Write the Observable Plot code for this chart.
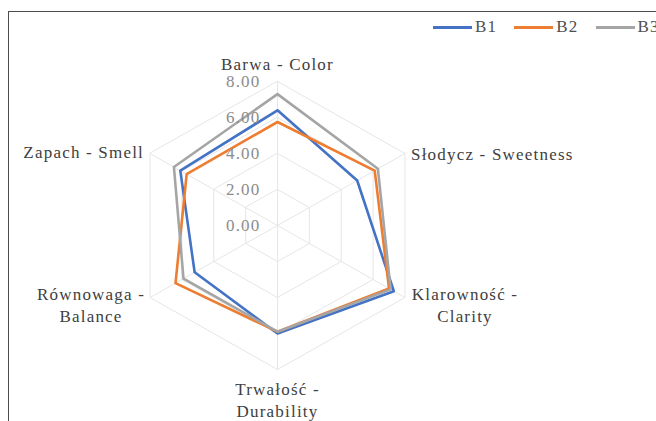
<!DOCTYPE html>
<html><head><meta charset="utf-8">
<script src="https://cdn.jsdelivr.net/npm/d3@7"></script>
<script src="https://cdn.jsdelivr.net/npm/@observablehq/plot@0.6"></script>
<style>
body{margin:0;background:#fff;overflow:hidden;}
#wrap{position:relative;width:656px;height:421px;overflow:hidden;background:#fff;}
#frame{position:absolute;left:8px;top:11px;width:700px;height:500px;border:1.5px solid #4d4d4d;box-sizing:border-box;pointer-events:none;}
#legend{position:absolute;top:17px;left:433px;display:flex;font-family:"Liberation Serif",serif;font-size:17px;letter-spacing:1.2px;color:#505050;white-space:nowrap;}
#legend .item{display:flex;align-items:center;margin-right:17px;}
#legend .sw{display:inline-block;width:39px;height:3px;margin-right:3px;}
svg text{letter-spacing:1.2px;}
</style></head>
<body><div id="wrap"><div id="chart"></div><div id="frame"></div><div id="legend"></div></div>
<script>
const categories = ["Barwa - Color","Słodycz - Sweetness","Klarowność -\nClarity","Trwałość -\nDurability","Równowaga -\nBalance","Zapach - Smell"];
const seriesNames = ["B1","B2","B3"];
const b1 = [6.4, 5.0, 7.3, 6.0, 5.2, 6.1];
const b2 = [5.75, 6.1, 7.0, 5.9, 6.4, 5.7];
const b3 = [7.3, 6.3, 7.1, 5.9, 5.9, 6.5];
const colors = ["#4472C4","#ED7D31","#A5A5A5"];
const ticks = [0, 2, 4, 6, 8];
const tickLabels = ["0.00","2.00","4.00","6.00","8.00"];
const maxValue = 8;

const W = 656, H = 421, cx = 277, cy = 225, ux = 18.4, uy = 18.0;
const n = categories.length;
const ang = i => i * 2 * Math.PI / n;
const px = (i, r) => r * Math.sin(ang(i));
const py = (i, r) => r * Math.cos(ang(i));

const seriesValues = [b1, b2, b3];
const pts = [];
seriesValues.forEach((vals, s) => vals.forEach((v, i) => pts.push({series: seriesNames[s], i, v, x: px(i, v), y: py(i, v)})));

const grid = [];
ticks.filter(t => t > 0).forEach(t => categories.forEach((c, i) => grid.push({t, x: px(i, t), y: py(i, t)})));
const spokes = categories.map((c, i) => ({x2: px(i, maxValue), y2: py(i, maxValue)}));
const tickData = ticks.map((t, k) => ({x: 0, y: t, label: tickLabels[k]}));

const labelStyle = [
  {textAnchor: "middle", dx: 0, dy: -19},
  {textAnchor: "start", dx: 6, dy: -1},
  {textAnchor: "middle", dx: 60, dy: 6},
  {textAnchor: "middle", dx: 0, dy: 29},
  {textAnchor: "middle", dx: -59, dy: 6},
  {textAnchor: "end", dx: -6, dy: -3}
];
const labelMarks = categories.map((c, i) => Plot.text([{x: px(i, maxValue), y: py(i, maxValue), label: c}], {
  x: "x", y: "y", text: "label", fill: "#404040", fontSize: 17, lineHeight: 1.3,
  fontFamily: "Liberation Serif", lineAnchor: "middle", ...labelStyle[i]
}));

const chart = Plot.plot({
  width: W, height: H, margin: 0,
  x: {domain: [-cx / ux, (W - cx) / ux], range: [0, W], axis: null},
  y: {domain: [(cy - H) / uy, cy / uy], range: [H, 0], axis: null},
  color: {domain: seriesNames, range: colors},
  style: {fontFamily: "Liberation Serif", background: "white"},
  marks: [
    Plot.link(spokes, {x1: 0, y1: 0, x2: "x2", y2: "y2", stroke: "#e6e6e6", strokeWidth: 1}),
    Plot.line(grid, {x: "x", y: "y", z: "t", curve: "linear-closed", stroke: "#e6e6e6", strokeWidth: 1}),
    Plot.line(pts, {x: "x", y: "y", z: "series", stroke: "series", curve: "linear-closed", strokeWidth: 2.6, strokeLinejoin: "round"}),
    Plot.text(tickData, {x: "x", y: "y", text: "label", textAnchor: "end", dx: -17, fill: "#8c8c8c", fontSize: 17, fontFamily: "Liberation Serif"}),
    ...labelMarks
  ]
});
document.getElementById("chart").appendChild(chart);

const legend = document.getElementById("legend");
seriesNames.forEach((s, k) => {
  const item = document.createElement("span");
  item.className = "item";
  const sw = document.createElement("span");
  sw.className = "sw";
  sw.style.background = colors[k];
  item.appendChild(sw);
  item.appendChild(document.createTextNode(s));
  legend.appendChild(item);
});
</script></body></html>
